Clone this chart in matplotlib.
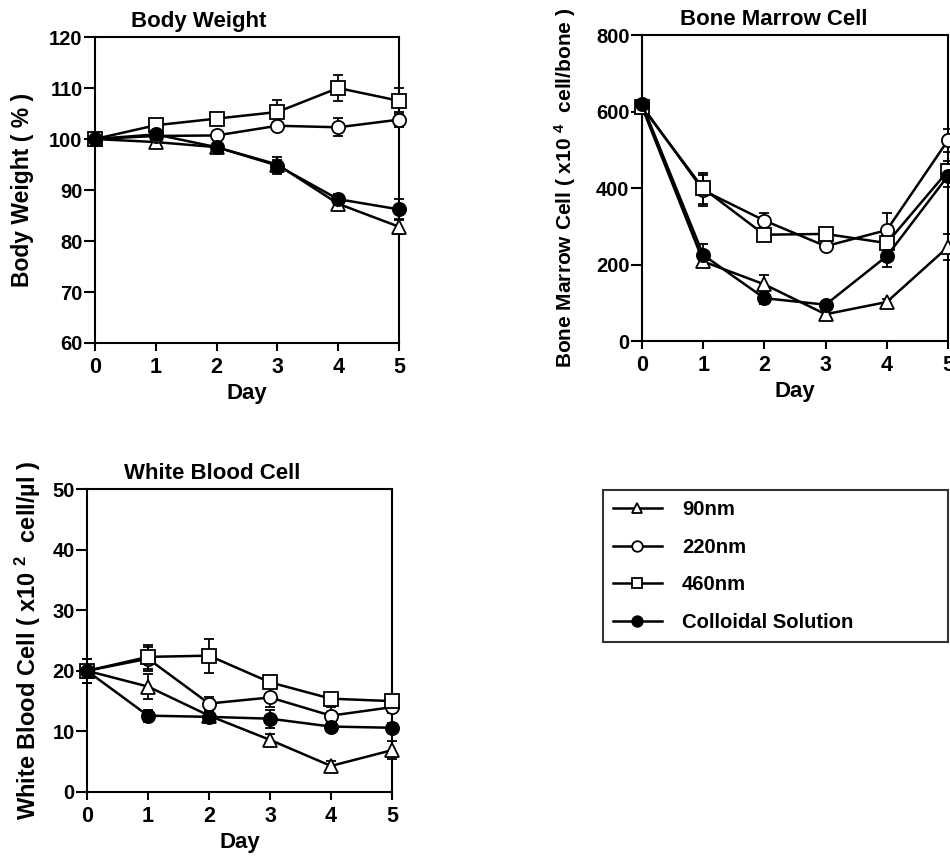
import matplotlib
matplotlib.use("Agg")
import matplotlib.pyplot as plt

plt.rcParams['font.family'] = ['Liberation Sans', 'DejaVu Sans']
plt.rcParams['font.weight'] = 'bold'
plt.rcParams['mathtext.fontset'] = 'custom'
plt.rcParams['mathtext.rm'] = 'Liberation Sans:bold'
plt.rcParams['mathtext.bf'] = 'Liberation Sans:bold'
plt.rcParams['mathtext.default'] = 'bf'

days = [0, 1, 2, 3, 4, 5]
series_names = ['90nm', '220nm', '460nm', 'Colloidal Solution']

# Body weight (%)
bw_90 = [100, 99.4, 98.4, 95.0, 87.3, 82.8]
bw_220 = [100, 100.6, 100.7, 102.6, 102.3, 103.8]
bw_460 = [100, 102.7, 104.0, 105.3, 110.0, 107.5]
bw_col = [100, 100.9, 98.4, 94.8, 88.2, 86.2]
bw_90_err = [0.5, 0.8, 0.8, 0.8, 1.0, 1.5]
bw_220_err = [0.5, 0.8, 0.8, 0.8, 1.8, 1.5]
bw_460_err = [0.5, 0.8, 1.0, 2.3, 2.6, 2.5]
bw_col_err = [0.5, 0.8, 0.8, 1.6, 1.0, 2.0]

# Bone marrow cell (x10^4 cell/bone)
bm_90 = [612, 208, 148, 70, 102, 246]
bm_220 = [615, 394, 315, 248, 290, 525]
bm_460 = [612, 399, 278, 280, 256, 445]
bm_col = [620, 225, 112, 95, 222, 432]
bm_90_err = [10, 15, 25, 10, 8, 35]
bm_220_err = [10, 40, 20, 10, 45, 30]
bm_460_err = [10, 40, 15, 15, 20, 25]
bm_col_err = [10, 28, 15, 10, 28, 30]

# White blood cell (x10^2 cell/ul)
wbc_90 = [20, 17.4, 12.6, 8.6, 4.3, 6.9]
wbc_220 = [20, 22.0, 14.6, 15.6, 12.6, 14.0]
wbc_460 = [20, 22.3, 22.5, 18.1, 15.4, 15.0]
wbc_col = [20, 12.6, 12.4, 12.1, 10.8, 10.6]
wbc_90_err = [2, 2, 1, 1, 0.8, 1.5]
wbc_220_err = [2, 2, 1, 1.5, 1.5, 1]
wbc_460_err = [2, 2, 2.8, 1, 1, 1]
wbc_col_err = [2, 1, 0.8, 1.5, 0.8, 0.8]

styles = [
    dict(marker='^', mfc='white', mec='black'),
    dict(marker='o', mfc='white', mec='black'),
    dict(marker='s', mfc='white', mec='black'),
    dict(marker='o', mfc='black', mec='black'),
]

fig = plt.figure(figsize=(9.5, 8.59), dpi=100)


def panel(rect, data, errs, ylim, yticks, title, title_x, ylabel, ylabel_x, ylabel_size):
    ax = fig.add_axes(rect)
    handles = []
    for vals, err, st, name in zip(data, errs, styles, series_names):
        ax.errorbar(days, vals, yerr=err, fmt='none', ecolor='black', elinewidth=1.3,
                    capsize=3.5, capthick=1.3, zorder=2, clip_on=False)
        h, = ax.plot(days, vals, color='black', lw=1.8, markersize=9.5, markeredgewidth=1.3,
                     zorder=3, clip_on=False, label=name, **st)
        handles.append(h)
    ax.set_xlim(0, 5)
    ax.set_ylim(*ylim)
    ax.set_xticks(days)
    ax.set_yticks(yticks)
    for s in ax.spines.values():
        s.set_linewidth(1.5)
    ax.tick_params(axis='x', direction='out', length=6, width=1.5, labelsize=15.5, pad=4)
    ax.tick_params(axis='y', direction='out', length=8, width=1.5, labelsize=14.5, pad=1)
    ax.set_title(title, x=title_x, pad=7, fontsize=16, fontweight='bold')
    ax.set_xlabel('Day', fontsize=16, fontweight='bold', labelpad=4)
    ax.set_ylabel(ylabel, fontsize=ylabel_size, fontweight='bold')
    ax.yaxis.set_label_coords(ylabel_x, 0.5)
    return handles


panel([0.1, 0.6007, 0.32, 0.3562], [bw_90, bw_220, bw_460, bw_col],
      [bw_90_err, bw_220_err, bw_460_err, bw_col_err], (60, 120), range(60, 121, 10),
      'Body Weight', 0.34, 'Body Weight ( % )', -0.2, 16.5)

panel([0.6758, 0.603, 0.3221, 0.3562], [bm_90, bm_220, bm_460, bm_col],
      [bm_90_err, bm_220_err, bm_460_err, bm_col_err], (0, 800), range(0, 801, 200),
      'Bone Marrow Cell', 0.43, r'Bone Marrow Cell ( x10 $^{4}$  cell/bone )', -0.21, 15)

handles = panel([0.0916, 0.078, 0.321, 0.3527], [wbc_90, wbc_220, wbc_460, wbc_col],
                [wbc_90_err, wbc_220_err, wbc_460_err, wbc_col_err], (0, 50), range(0, 51, 10),
                'White Blood Cell', 0.41, 'White Blood Cell ( x10 $^{2}$  cell/µl )', -0.145, 17)

# legend box in its own empty axes
lax = fig.add_axes([603 / 950, 1 - 650 / 859, 345 / 950, 160 / 859])
lax.axis('off')
leg = lax.legend(handles=handles, loc='upper left', bbox_to_anchor=(0, 0, 1, 1), mode='expand',
                 borderaxespad=0, fancybox=False, frameon=True, edgecolor='black',
                 fontsize=14.6, handlelength=2.4, handletextpad=1.0, labelspacing=0.92,
                 borderpad=0.5, markerscale=0.8)
leg.get_frame().set_linewidth(1.5)

fig.savefig('out.png', dpi=100)
